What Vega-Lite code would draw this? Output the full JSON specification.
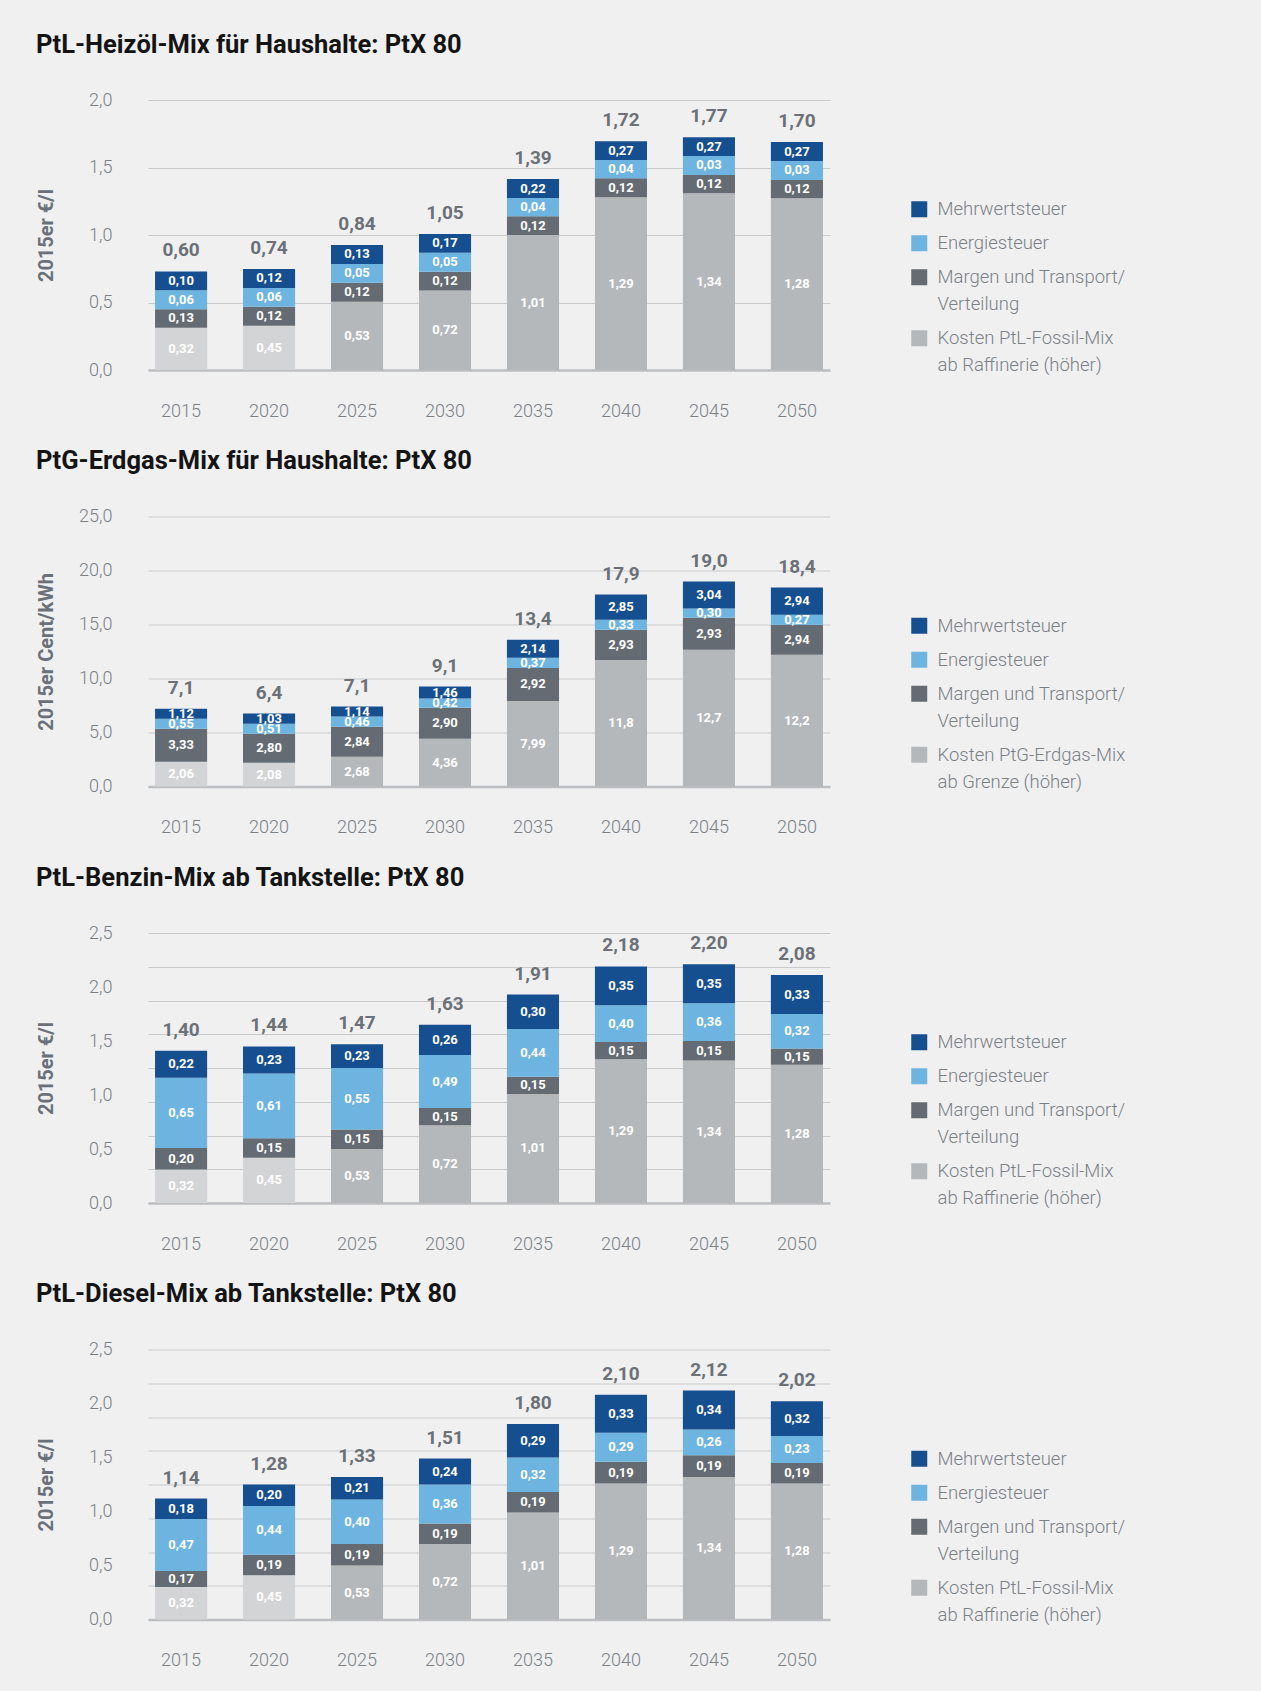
{
  "$schema": "https://vega.github.io/schema/vega-lite/v6.json",
  "padding": {"left": 36, "top": 32, "right": 143, "bottom": 26},
  "spacing": 28.5,
  "datasets": {
    "main": [
      {"p":1,"year":"2015","cat":"K","v":0.32,"h":0.313},{"p":1,"year":"2015","cat":"V","v":0.13,"h":0.137},{"p":1,"year":"2015","cat":"E","v":0.06,"h":0.14},{"p":1,"year":"2015","cat":"M","v":0.10,"h":0.14},
      {"p":1,"year":"2020","cat":"K","v":0.45,"h":0.328},{"p":1,"year":"2020","cat":"V","v":0.12,"h":0.14},{"p":1,"year":"2020","cat":"E","v":0.06,"h":0.14},{"p":1,"year":"2020","cat":"M","v":0.12,"h":0.14},
      {"p":1,"year":"2025","cat":"K","v":0.53,"h":0.506},{"p":1,"year":"2025","cat":"V","v":0.12,"h":0.14},{"p":1,"year":"2025","cat":"E","v":0.05,"h":0.14},{"p":1,"year":"2025","cat":"M","v":0.13,"h":0.14},
      {"p":1,"year":"2030","cat":"K","v":0.72,"h":0.588},{"p":1,"year":"2030","cat":"V","v":0.12,"h":0.14},{"p":1,"year":"2030","cat":"E","v":0.05,"h":0.14},{"p":1,"year":"2030","cat":"M","v":0.17,"h":0.14},
      {"p":1,"year":"2035","cat":"K","v":1.01,"h":1.0},{"p":1,"year":"2035","cat":"V","v":0.12,"h":0.139},{"p":1,"year":"2035","cat":"E","v":0.04,"h":0.135},{"p":1,"year":"2035","cat":"M","v":0.22,"h":0.14},
      {"p":1,"year":"2040","cat":"K","v":1.29,"h":1.28},{"p":1,"year":"2040","cat":"V","v":0.12,"h":0.14},{"p":1,"year":"2040","cat":"E","v":0.04,"h":0.135},{"p":1,"year":"2040","cat":"M","v":0.27,"h":0.14},
      {"p":1,"year":"2045","cat":"K","v":1.34,"h":1.31},{"p":1,"year":"2045","cat":"V","v":0.12,"h":0.135},{"p":1,"year":"2045","cat":"E","v":0.03,"h":0.14},{"p":1,"year":"2045","cat":"M","v":0.27,"h":0.14},
      {"p":1,"year":"2050","cat":"K","v":1.28,"h":1.273},{"p":1,"year":"2050","cat":"V","v":0.12,"h":0.135},{"p":1,"year":"2050","cat":"E","v":0.03,"h":0.14},{"p":1,"year":"2050","cat":"M","v":0.27,"h":0.14},

      {"p":2,"year":"2015","cat":"K","v":2.06,"h":2.29},{"p":2,"year":"2015","cat":"V","v":3.33,"h":3.06},{"p":2,"year":"2015","cat":"E","v":0.55,"h":0.93},{"p":2,"year":"2015","cat":"M","v":1.12,"h":0.93},
      {"p":2,"year":"2020","cat":"K","v":2.08,"h":2.2},{"p":2,"year":"2020","cat":"V","v":2.80,"h":2.69},{"p":2,"year":"2020","cat":"E","v":0.51,"h":0.93},{"p":2,"year":"2020","cat":"M","v":1.03,"h":0.93},
      {"p":2,"year":"2025","cat":"K","v":2.68,"h":2.75},{"p":2,"year":"2025","cat":"V","v":2.84,"h":2.79},{"p":2,"year":"2025","cat":"E","v":0.46,"h":0.93},{"p":2,"year":"2025","cat":"M","v":1.14,"h":0.93},
      {"p":2,"year":"2030","cat":"K","v":4.36,"h":4.42},{"p":2,"year":"2030","cat":"V","v":2.90,"h":2.88},{"p":2,"year":"2030","cat":"E","v":0.42,"h":0.84},{"p":2,"year":"2030","cat":"M","v":1.46,"h":1.11},
      {"p":2,"year":"2035","cat":"K","v":7.99,"h":7.91},{"p":2,"year":"2035","cat":"V","v":2.92,"h":3.07},{"p":2,"year":"2035","cat":"E","v":0.37,"h":0.93},{"p":2,"year":"2035","cat":"M","v":2.14,"h":1.67},
      {"p":2,"year":"2040","cat":"K","v":11.8,"h":11.72},{"p":2,"year":"2040","cat":"V","v":2.93,"h":2.8},{"p":2,"year":"2040","cat":"E","v":0.33,"h":0.93},{"p":2,"year":"2040","cat":"M","v":2.85,"h":2.32},
      {"p":2,"year":"2045","cat":"K","v":12.7,"h":12.66},{"p":2,"year":"2045","cat":"V","v":2.93,"h":2.97},{"p":2,"year":"2045","cat":"E","v":0.30,"h":0.84},{"p":2,"year":"2045","cat":"M","v":3.04,"h":2.51},
      {"p":2,"year":"2050","cat":"K","v":12.2,"h":12.19},{"p":2,"year":"2050","cat":"V","v":2.94,"h":2.79},{"p":2,"year":"2050","cat":"E","v":0.27,"h":0.93},{"p":2,"year":"2050","cat":"M","v":2.94,"h":2.51},

      {"p":3,"year":"2015","cat":"K","v":0.32,"h":0.31},{"p":3,"year":"2015","cat":"V","v":0.20,"h":0.2},{"p":3,"year":"2015","cat":"E","v":0.65,"h":0.65},{"p":3,"year":"2015","cat":"M","v":0.22,"h":0.25},
      {"p":3,"year":"2020","cat":"K","v":0.45,"h":0.42},{"p":3,"year":"2020","cat":"V","v":0.15,"h":0.18},{"p":3,"year":"2020","cat":"E","v":0.61,"h":0.6},{"p":3,"year":"2020","cat":"M","v":0.23,"h":0.25},
      {"p":3,"year":"2025","cat":"K","v":0.53,"h":0.5},{"p":3,"year":"2025","cat":"V","v":0.15,"h":0.18},{"p":3,"year":"2025","cat":"E","v":0.55,"h":0.57},{"p":3,"year":"2025","cat":"M","v":0.23,"h":0.22},
      {"p":3,"year":"2030","cat":"K","v":0.72,"h":0.72},{"p":3,"year":"2030","cat":"V","v":0.15,"h":0.16},{"p":3,"year":"2030","cat":"E","v":0.49,"h":0.49},{"p":3,"year":"2030","cat":"M","v":0.26,"h":0.28},
      {"p":3,"year":"2035","cat":"K","v":1.01,"h":1.01},{"p":3,"year":"2035","cat":"V","v":0.15,"h":0.16},{"p":3,"year":"2035","cat":"E","v":0.44,"h":0.44},{"p":3,"year":"2035","cat":"M","v":0.30,"h":0.32},
      {"p":3,"year":"2040","cat":"K","v":1.29,"h":1.33},{"p":3,"year":"2040","cat":"V","v":0.15,"h":0.16},{"p":3,"year":"2040","cat":"E","v":0.40,"h":0.34},{"p":3,"year":"2040","cat":"M","v":0.35,"h":0.36},
      {"p":3,"year":"2045","cat":"K","v":1.34,"h":1.32},{"p":3,"year":"2045","cat":"V","v":0.15,"h":0.18},{"p":3,"year":"2045","cat":"E","v":0.36,"h":0.35},{"p":3,"year":"2045","cat":"M","v":0.35,"h":0.36},
      {"p":3,"year":"2050","cat":"K","v":1.28,"h":1.28},{"p":3,"year":"2050","cat":"V","v":0.15,"h":0.15},{"p":3,"year":"2050","cat":"E","v":0.32,"h":0.32},{"p":3,"year":"2050","cat":"M","v":0.33,"h":0.36},

      {"p":4,"year":"2015","cat":"K","v":0.32,"h":0.3},{"p":4,"year":"2015","cat":"V","v":0.17,"h":0.15},{"p":4,"year":"2015","cat":"E","v":0.47,"h":0.48},{"p":4,"year":"2015","cat":"M","v":0.18,"h":0.19},
      {"p":4,"year":"2020","cat":"K","v":0.45,"h":0.41},{"p":4,"year":"2020","cat":"V","v":0.19,"h":0.19},{"p":4,"year":"2020","cat":"E","v":0.44,"h":0.45},{"p":4,"year":"2020","cat":"M","v":0.20,"h":0.2},
      {"p":4,"year":"2025","cat":"K","v":0.53,"h":0.5},{"p":4,"year":"2025","cat":"V","v":0.19,"h":0.2},{"p":4,"year":"2025","cat":"E","v":0.40,"h":0.41},{"p":4,"year":"2025","cat":"M","v":0.21,"h":0.21},
      {"p":4,"year":"2030","cat":"K","v":0.72,"h":0.7},{"p":4,"year":"2030","cat":"V","v":0.19,"h":0.19},{"p":4,"year":"2030","cat":"E","v":0.36,"h":0.36},{"p":4,"year":"2030","cat":"M","v":0.24,"h":0.24},
      {"p":4,"year":"2035","cat":"K","v":1.01,"h":0.99},{"p":4,"year":"2035","cat":"V","v":0.19,"h":0.19},{"p":4,"year":"2035","cat":"E","v":0.32,"h":0.32},{"p":4,"year":"2035","cat":"M","v":0.29,"h":0.31},
      {"p":4,"year":"2040","cat":"K","v":1.29,"h":1.26},{"p":4,"year":"2040","cat":"V","v":0.19,"h":0.2},{"p":4,"year":"2040","cat":"E","v":0.29,"h":0.27},{"p":4,"year":"2040","cat":"M","v":0.33,"h":0.35},
      {"p":4,"year":"2045","cat":"K","v":1.34,"h":1.32},{"p":4,"year":"2045","cat":"V","v":0.19,"h":0.2},{"p":4,"year":"2045","cat":"E","v":0.26,"h":0.24},{"p":4,"year":"2045","cat":"M","v":0.34,"h":0.36},
      {"p":4,"year":"2050","cat":"K","v":1.28,"h":1.26},{"p":4,"year":"2050","cat":"V","v":0.19,"h":0.19},{"p":4,"year":"2050","cat":"E","v":0.23,"h":0.25},{"p":4,"year":"2050","cat":"M","v":0.32,"h":0.32}
    ],
    "tot1": [{"year":"2015","total":0.60},{"year":"2020","total":0.74},{"year":"2025","total":0.84},{"year":"2030","total":1.05},{"year":"2035","total":1.39},{"year":"2040","total":1.72},{"year":"2045","total":1.77},{"year":"2050","total":1.70}],
    "tot2": [{"year":"2015","total":7.1},{"year":"2020","total":6.4},{"year":"2025","total":7.1},{"year":"2030","total":9.1},{"year":"2035","total":13.4},{"year":"2040","total":17.9},{"year":"2045","total":19.0},{"year":"2050","total":18.4}],
    "tot3": [{"year":"2015","total":1.40},{"year":"2020","total":1.44},{"year":"2025","total":1.47},{"year":"2030","total":1.63},{"year":"2035","total":1.91},{"year":"2040","total":2.18},{"year":"2045","total":2.20},{"year":"2050","total":2.08}],
    "tot4": [{"year":"2015","total":1.14},{"year":"2020","total":1.28},{"year":"2025","total":1.33},{"year":"2030","total":1.51},{"year":"2035","total":1.80},{"year":"2040","total":2.10},{"year":"2045","total":2.12},{"year":"2050","total":2.02}]
  },
  "resolve": {"scale": {"color": "independent"}, "legend": {"color": "independent"}},
  "vconcat": [
    {
      "title": {"text": "PtL-Heizöl-Mix für Haushalte: PtX 80"},
      "width": 682, "height": 270,
      "data": {"name": "main"},
      "transform": [
        {"filter": "datum.p == 1"},
        {"calculate": "datum.cat == 'M' ? 4 : datum.cat == 'E' ? 3 : datum.cat == 'V' ? 2 : 1", "as": "o"},
        {"stack": "h", "groupby": ["year"], "sort": [{"field": "o", "order": "ascending"}], "as": ["y0", "y1"]},
        {"calculate": "(datum.y0 + datum.y1) / 2", "as": "mid"},
        {"calculate": "replace(format(datum.v, '.2f'), '.', ',')", "as": "lab"}
      ],
      "encoding": {"x": {"field": "year", "type": "ordinal", "title": null, "scale": {"paddingInner": 0.408, "paddingOuter": 0.08}}},
      "resolve": {"axis": {"y": "independent"}},
      "layer": [
        {"mark": {"type": "bar"},
         "encoding": {
           "y": {"field": "y1", "type": "quantitative", "scale": {"domain": [0, 2], "nice": false}, "title": "2015er €/l",
                 "axis": {"orient": "left", "values": [0, 0.5, 1, 1.5, 2], "labelExpr": "replace(format(datum.value, '.1f'), '.', ',')"}},
           "y2": {"field": "y0"},
           "color": {"field": "cat", "type": "nominal",
             "condition": {"test": "datum.cat == 'K' && (datum.year == '2015' || datum.year == '2020')", "value": "#d3d4d6"},
             "scale": {"domain": ["M", "E", "V", "K"], "range": ["#164f8f", "#6db5e0", "#656b73", "#b5b8bb"]},
             "legend": {"labelExpr": "datum.value == 'M' ? 'Mehrwertsteuer' : datum.value == 'E' ? 'Energiesteuer' : datum.value == 'V' ? ['Margen und Transport/', 'Verteilung'] : ['Kosten PtL-Fossil-Mix', 'ab Raffinerie (höher)']",
                        "encoding": {"labels": {"lineHeight": {"value": 27}}}}}
         }},
        {"mark": {"type": "text", "color": "white", "fontSize": 13, "fontWeight": "bold"},
         "encoding": {"y": {"field": "mid", "type": "quantitative", "axis": null}, "text": {"field": "lab"}}},
        {"transform": [
           {"aggregate": [{"op": "sum", "field": "h", "as": "top"}], "groupby": ["year"]},
           {"lookup": "year", "from": {"data": {"name": "tot1"}, "key": "year", "fields": ["total"]}},
           {"calculate": "replace(format(datum.total, '.2f'), '.', ',')", "as": "tl"}],
         "mark": {"type": "text", "baseline": "alphabetic", "dy": -15, "fontSize": 19, "fontWeight": "bold", "color": "#6c7178"},
         "encoding": {"y": {"field": "top", "type": "quantitative", "axis": null}, "text": {"field": "tl"}}}
      ]
    },
    {
      "title": {"text": "PtG-Erdgas-Mix für Haushalte: PtX 80"},
      "width": 682, "height": 270,
      "data": {"name": "main"},
      "transform": [
        {"filter": "datum.p == 2"},
        {"calculate": "datum.cat == 'M' ? 4 : datum.cat == 'E' ? 3 : datum.cat == 'V' ? 2 : 1", "as": "o"},
        {"stack": "h", "groupby": ["year"], "sort": [{"field": "o", "order": "ascending"}], "as": ["y0", "y1"]},
        {"calculate": "(datum.y0 + datum.y1) / 2", "as": "mid"},
        {"calculate": "replace(format(datum.v, datum.v >= 10 ? '.1f' : '.2f'), '.', ',')", "as": "lab"}
      ],
      "encoding": {"x": {"field": "year", "type": "ordinal", "title": null, "scale": {"paddingInner": 0.408, "paddingOuter": 0.08}}},
      "resolve": {"axis": {"y": "independent"}},
      "layer": [
        {"mark": {"type": "bar"},
         "encoding": {
           "y": {"field": "y1", "type": "quantitative", "scale": {"domain": [0, 25], "nice": false}, "title": "2015er Cent/kWh",
                 "axis": {"orient": "left", "values": [0, 5, 10, 15, 20, 25], "labelExpr": "replace(format(datum.value, '.1f'), '.', ',')"}},
           "y2": {"field": "y0"},
           "color": {"field": "cat", "type": "nominal",
             "condition": {"test": "datum.cat == 'K' && (datum.year == '2015' || datum.year == '2020')", "value": "#d3d4d6"},
             "scale": {"domain": ["M", "E", "V", "K"], "range": ["#164f8f", "#6db5e0", "#656b73", "#b5b8bb"]},
             "legend": {"labelExpr": "datum.value == 'M' ? 'Mehrwertsteuer' : datum.value == 'E' ? 'Energiesteuer' : datum.value == 'V' ? ['Margen und Transport/', 'Verteilung'] : ['Kosten PtG-Erdgas-Mix', 'ab Grenze (höher)']",
                        "encoding": {"labels": {"lineHeight": {"value": 27}}}}}
         }},
        {"mark": {"type": "text", "color": "white", "fontSize": 13, "fontWeight": "bold"},
         "encoding": {"y": {"field": "mid", "type": "quantitative", "axis": null}, "text": {"field": "lab"}}},
        {"transform": [
           {"aggregate": [{"op": "sum", "field": "h", "as": "top"}], "groupby": ["year"]},
           {"lookup": "year", "from": {"data": {"name": "tot2"}, "key": "year", "fields": ["total"]}},
           {"calculate": "replace(format(datum.total, '.1f'), '.', ',')", "as": "tl"}],
         "mark": {"type": "text", "baseline": "alphabetic", "dy": -15, "fontSize": 19, "fontWeight": "bold", "color": "#6c7178"},
         "encoding": {"y": {"field": "top", "type": "quantitative", "axis": null}, "text": {"field": "tl"}}}
      ]
    },
    {
      "title": {"text": "PtL-Benzin-Mix ab Tankstelle: PtX 80"},
      "width": 682, "height": 270,
      "data": {"name": "main"},
      "transform": [
        {"filter": "datum.p == 3"},
        {"calculate": "datum.cat == 'M' ? 4 : datum.cat == 'E' ? 3 : datum.cat == 'V' ? 2 : 1", "as": "o"},
        {"stack": "h", "groupby": ["year"], "sort": [{"field": "o", "order": "ascending"}], "as": ["y0", "y1"]},
        {"calculate": "(datum.y0 + datum.y1) / 2", "as": "mid"},
        {"calculate": "replace(format(datum.v, '.2f'), '.', ',')", "as": "lab"}
      ],
      "encoding": {"x": {"field": "year", "type": "ordinal", "title": null, "scale": {"paddingInner": 0.408, "paddingOuter": 0.08}}},
      "resolve": {"axis": {"y": "independent"}},
      "layer": [
        {"mark": {"type": "bar"},
         "encoding": {
           "y": {"field": "y1", "type": "quantitative", "scale": {"domain": [0, 2.5], "nice": false}, "title": null,
                 "axis": {"orient": "left", "values": [0, 0.3125, 0.625, 0.9375, 1.25, 1.5625, 1.875, 2.1875, 2.5], "labels": false}},
           "y2": {"field": "y0"},
           "color": {"field": "cat", "type": "nominal",
             "condition": {"test": "datum.cat == 'K' && (datum.year == '2015' || datum.year == '2020')", "value": "#d3d4d6"},
             "scale": {"domain": ["M", "E", "V", "K"], "range": ["#164f8f", "#6db5e0", "#656b73", "#b5b8bb"]},
             "legend": {"labelExpr": "datum.value == 'M' ? 'Mehrwertsteuer' : datum.value == 'E' ? 'Energiesteuer' : datum.value == 'V' ? ['Margen und Transport/', 'Verteilung'] : ['Kosten PtL-Fossil-Mix', 'ab Raffinerie (höher)']",
                        "encoding": {"labels": {"lineHeight": {"value": 27}}}}}
         }},
        {"mark": {"type": "text", "color": "white", "fontSize": 13, "fontWeight": "bold"},
         "encoding": {"y": {"field": "mid", "type": "quantitative", "title": "2015er €/l",
             "axis": {"orient": "left", "grid": false, "values": [0, 0.5, 1, 1.5, 2, 2.5], "labelExpr": "replace(format(datum.value, '.1f'), '.', ',')"}},
           "text": {"field": "lab"}}},
        {"transform": [
           {"aggregate": [{"op": "sum", "field": "h", "as": "top"}], "groupby": ["year"]},
           {"lookup": "year", "from": {"data": {"name": "tot3"}, "key": "year", "fields": ["total"]}},
           {"calculate": "replace(format(datum.total, '.2f'), '.', ',')", "as": "tl"}],
         "mark": {"type": "text", "baseline": "alphabetic", "dy": -15, "fontSize": 19, "fontWeight": "bold", "color": "#6c7178"},
         "encoding": {"y": {"field": "top", "type": "quantitative", "axis": null}, "text": {"field": "tl"}}}
      ]
    },
    {
      "title": {"text": "PtL-Diesel-Mix ab Tankstelle: PtX 80"},
      "width": 682, "height": 270,
      "data": {"name": "main"},
      "transform": [
        {"filter": "datum.p == 4"},
        {"calculate": "datum.cat == 'M' ? 4 : datum.cat == 'E' ? 3 : datum.cat == 'V' ? 2 : 1", "as": "o"},
        {"stack": "h", "groupby": ["year"], "sort": [{"field": "o", "order": "ascending"}], "as": ["y0", "y1"]},
        {"calculate": "(datum.y0 + datum.y1) / 2", "as": "mid"},
        {"calculate": "replace(format(datum.v, '.2f'), '.', ',')", "as": "lab"}
      ],
      "encoding": {"x": {"field": "year", "type": "ordinal", "title": null, "scale": {"paddingInner": 0.408, "paddingOuter": 0.08}}},
      "resolve": {"axis": {"y": "independent"}},
      "layer": [
        {"mark": {"type": "bar"},
         "encoding": {
           "y": {"field": "y1", "type": "quantitative", "scale": {"domain": [0, 2.5], "nice": false}, "title": null,
                 "axis": {"orient": "left", "values": [0, 0.3125, 0.625, 0.9375, 1.25, 1.5625, 1.875, 2.1875, 2.5], "labels": false}},
           "y2": {"field": "y0"},
           "color": {"field": "cat", "type": "nominal",
             "condition": {"test": "datum.cat == 'K' && (datum.year == '2015' || datum.year == '2020')", "value": "#d3d4d6"},
             "scale": {"domain": ["M", "E", "V", "K"], "range": ["#164f8f", "#6db5e0", "#656b73", "#b5b8bb"]},
             "legend": {"labelExpr": "datum.value == 'M' ? 'Mehrwertsteuer' : datum.value == 'E' ? 'Energiesteuer' : datum.value == 'V' ? ['Margen und Transport/', 'Verteilung'] : ['Kosten PtL-Fossil-Mix', 'ab Raffinerie (höher)']",
                        "encoding": {"labels": {"lineHeight": {"value": 27}}}}}
         }},
        {"mark": {"type": "text", "color": "white", "fontSize": 13, "fontWeight": "bold"},
         "encoding": {"y": {"field": "mid", "type": "quantitative", "title": "2015er €/l",
             "axis": {"orient": "left", "grid": false, "values": [0, 0.5, 1, 1.5, 2, 2.5], "labelExpr": "replace(format(datum.value, '.1f'), '.', ',')"}},
           "text": {"field": "lab"}}},
        {"transform": [
           {"aggregate": [{"op": "sum", "field": "h", "as": "top"}], "groupby": ["year"]},
           {"lookup": "year", "from": {"data": {"name": "tot4"}, "key": "year", "fields": ["total"]}},
           {"calculate": "replace(format(datum.total, '.2f'), '.', ',')", "as": "tl"}],
         "mark": {"type": "text", "baseline": "alphabetic", "dy": -15, "fontSize": 19, "fontWeight": "bold", "color": "#6c7178"},
         "encoding": {"y": {"field": "top", "type": "quantitative", "axis": null}, "text": {"field": "tl"}}}
      ]
    }
  ],
  "config": {
    "background": "#f0f0f0",
    "view": {"stroke": null},
    "font": "Roboto",
    "title": {"anchor": "start", "frame": "bounds", "fontSize": 25.5, "fontWeight": "bold", "color": "#141414", "baseline": "alphabetic", "offset": 33, "font": "Roboto"},
    "axis": {"domain": false, "ticks": false, "labelFont": "Roboto", "labelFontWeight": 300, "labelFontSize": 18, "labelColor": "#7b8087",
             "gridColor": "#c8c9cb", "gridWidth": 1.2, "titleFont": "Roboto", "titleFontSize": 20, "titleFontWeight": "bold", "titleColor": "#6b7078"},
    "axisY": {"labelPadding": 36, "titleX": -112, "titleBaseline": "top"},
    "axisX": {"labelAngle": 0, "labelPadding": 32, "grid": false, "domain": true, "domainColor": "#bcbec1", "domainWidth": 2.5},
    "legend": {"orient": "none", "legendX": 762, "legendY": 100, "title": null, "padding": 0, "symbolType": "square", "symbolSize": 256, "symbolStrokeWidth": 0,
               "labelFont": "Roboto", "labelFontWeight": 300, "labelFontSize": 18.5, "labelColor": "#7b8087", "labelLimit": 400, "rowPadding": 15, "labelOffset": 9}
  }
}
